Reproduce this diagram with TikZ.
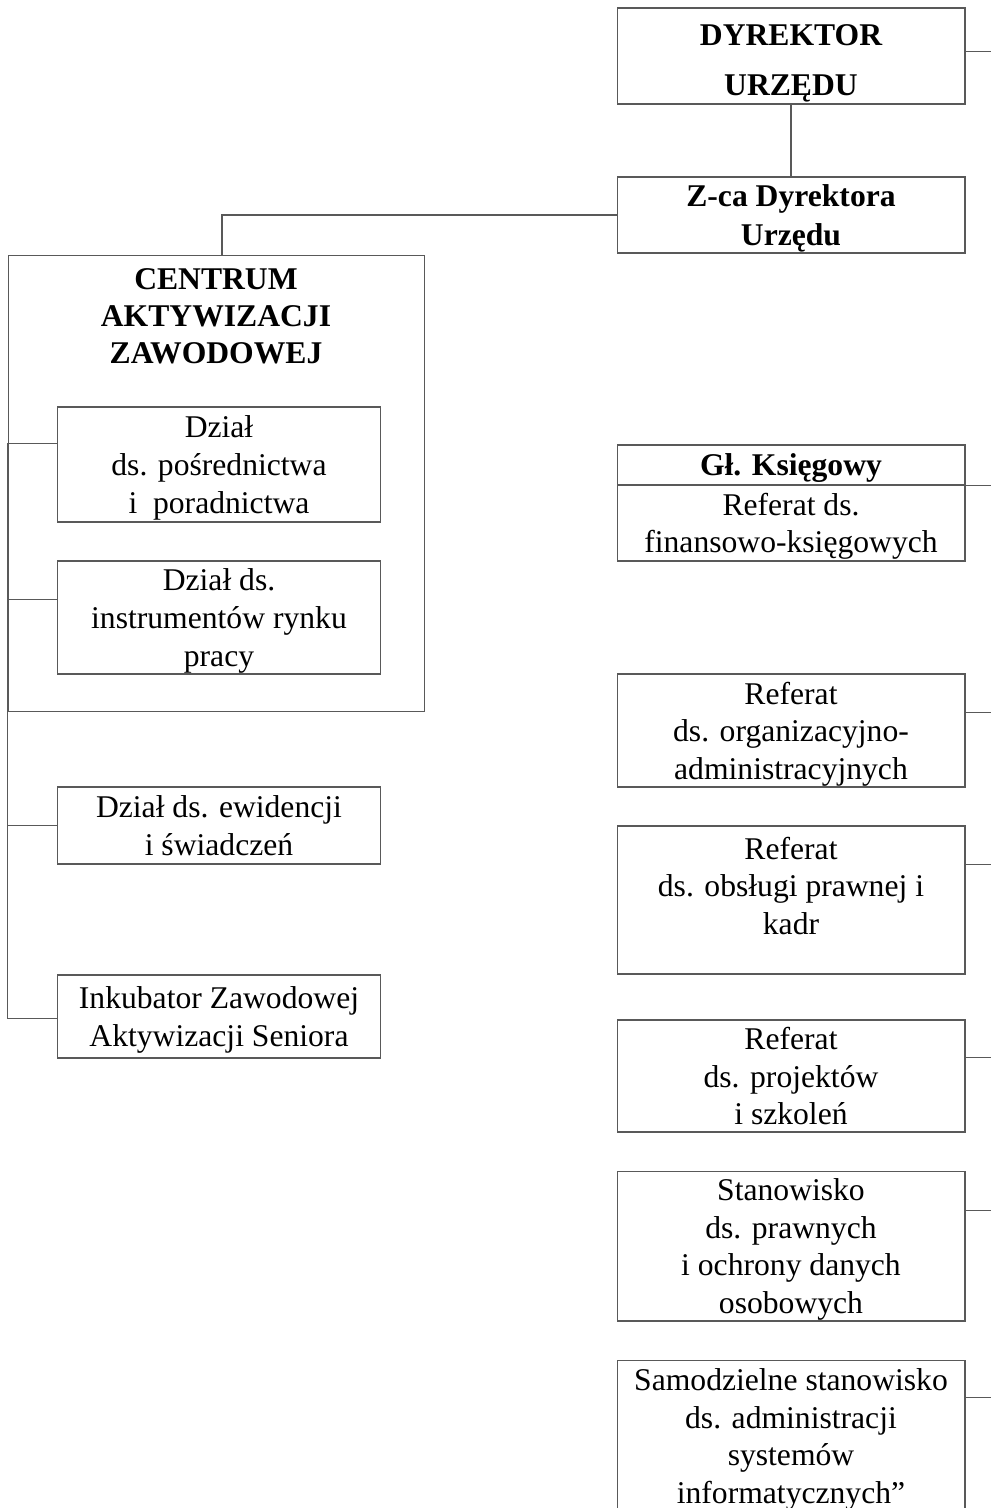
\documentclass[tikz,border=0pt]{standalone}
\usepackage{fontspec}
\setmainfont{Liberation Serif}
\usetikzlibrary{positioning}

\begin{document}
\begin{tikzpicture}[x=0.02cm, y=-0.02cm, line width=0.6pt]
    % Define styles
    \tikzstyle{unit} = [rectangle, draw=black!65, minimum width=6.96cm, text centered, align=center, inner sep=2pt, text depth=-2pt, font=\fontsize{18}{21.4}\selectfont]
    \tikzstyle{dept} = [unit, minimum width=6.48cm, font=\fontsize{18}{21.8}\selectfont]
    \tikzstyle{head} = [unit, font=\fontsize{18}{22}\selectfont\bfseries]
    \tikzstyle{link} = [draw=black!65]

    \path[use as bounding box, fill=white] (0,0) rectangle (991,1508);
    \clip (0,0) rectangle (991,1508);
    \coordinate (redge) at (991,0);

    % Management
    \node [head, minimum height=1.92cm, text height=1.59cm, font=\fontsize{18}{28.5}\selectfont\bfseries] (dyr) at (791,56) {DYREKTOR\\URZĘDU};
    \node [head, minimum height=1.52cm] (zca) at (791,215) {Z-ca Dyrektora\\Urzędu};

    % Centrum
    \node [rectangle, draw=black!65, minimum width=8.34cm, minimum height=9.14cm] (caz) at (216.5,483.5) {};
    \node [font=\fontsize{18}{21}\selectfont\bfseries, align=center] (caztitle) at (216,316) {CENTRUM\\AKTYWIZACJI\\ZAWODOWEJ};
    \node [dept, minimum height=2.3cm] (d1) at (219,464.5) {Dział\\ds. pośrednictwa\\i\ \ poradnictwa};
    \node [dept, minimum height=2.26cm] (d2) at (219,617.5) {Dział ds.\\instrumentów rynku\\pracy};
    \node [dept, minimum height=1.54cm] (d3) at (219,825.5) {Dział ds. ewidencji\\i świadczeń};
    \node [dept, minimum height=1.66cm] (d4) at (219,1016.5) {Inkubator Zawodowej\\Aktywizacji Seniora};

    % Right column
    \node [head, minimum height=0.8cm] (kgl) at (791,465) {Gł. Księgowy};
    \node [unit, minimum height=1.52cm] (kfin) at (791,523) {Referat ds.\\finansowo-księgowych};
    \node [unit, minimum height=2.26cm] (org) at (791,730.5) {Referat\\ds. organizacyjno-\\administracyjnych};
    \node [unit, minimum height=2.96cm, text depth=0.57cm] (obs) at (791,900) {Referat\\ds. obsługi prawnej i\\kadr};
    \node [unit, minimum height=2.24cm] (proj) at (791,1076) {Referat\\ds. projektów\\i szkoleń};
    \node [unit, minimum height=3cm] (stan) at (791,1246) {Stanowisko\\ds. prawnych\\i ochrony danych\\osobowych};
    \node [unit, minimum height=3.04cm] (sam) at (791,1436) {Samodzielne stanowisko\\ds. administracji\\systemów\\informatycznych”};

    % Lines
    \draw [link] (dyr) -- (zca);
    \draw [link] (zca.west) -| ([xshift=0.11cm]caz.north);
    \foreach \n/\dy in {d1/0.74, d2/0.78, d3/0.78, d4/0.88}
        \draw [link] ([yshift=-\dy cm]\n.north west) -| (caz.south west);
    \foreach \n/\dy in {dyr/0.88, org/0.78, obs/0.78, proj/0.76, stan/0.8, sam/0.76}
        \draw [link] ([yshift=-\dy cm]\n.north east) -- ([yshift=-\dy cm]\n.north east -| redge);
    \draw [link] (kgl.south east) -- (kgl.south east -| redge);
\end{tikzpicture}
\end{document}
